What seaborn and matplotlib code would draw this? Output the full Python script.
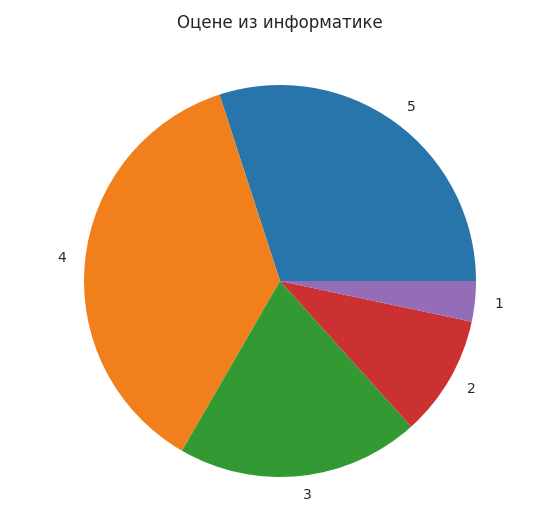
import matplotlib
matplotlib.use("Agg")
import matplotlib.pyplot as plt
import seaborn as sns

# grade counts for informatics
grades = ["5", "4", "3", "2", "1"]
counts = [9, 11, 6, 3, 1]

sns.set_style("white")
plt.rcParams["font.family"] = ["DejaVu Sans"]

# the reference colours look like slightly muted tab10
colors = sns.color_palette("tab10", len(grades), desat=0.88)

fig = plt.figure(figsize=(5.52, 5.27), dpi=100)
ax = fig.add_axes([35 / 552, 1 / 527, 490 / 552, 490 / 527])
ax.pie(counts, labels=grades, colors=colors,
       wedgeprops={"linewidth": 0, "edgecolor": "none"})
ax.set_title("Оцене из информатике", fontsize=12)

fig.savefig("out.png", dpi=100)
